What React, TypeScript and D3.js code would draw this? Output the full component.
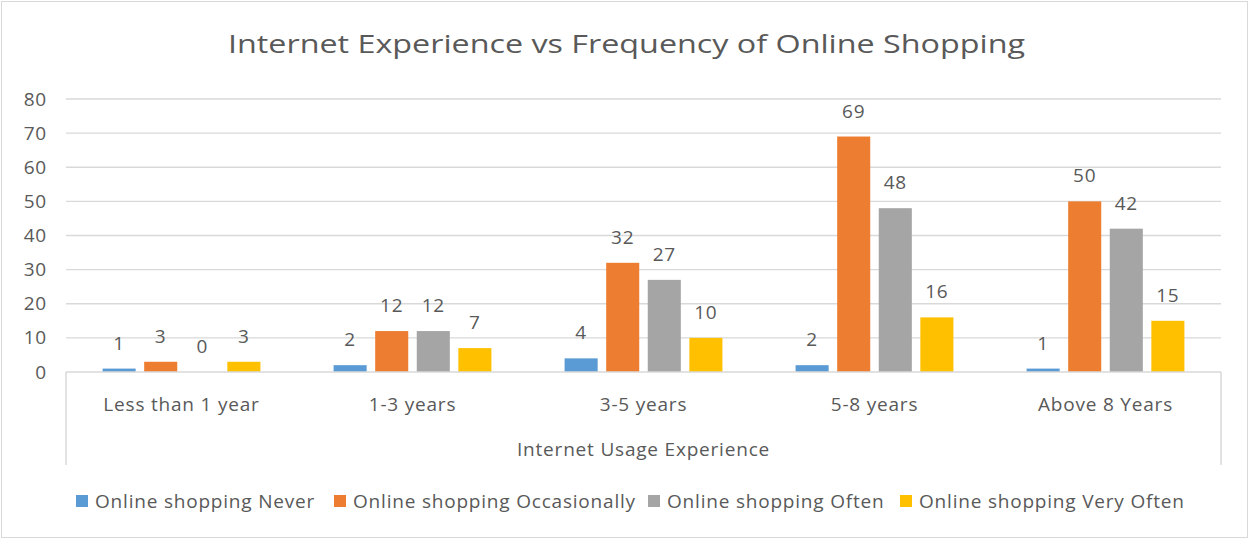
import React, { useEffect, useRef } from "react";
import * as d3 from "d3";

const title = "Internet Experience vs Frequency of Online Shopping";
const axisTitle = "Internet Usage Experience";
const categories = ["Less than 1 year", "1-3 years", "3-5 years", "5-8 years", "Above 8 Years"];
const seriesNames = [
  "Online shopping Never",
  "Online shopping Occasionally",
  "Online shopping Often",
  "Online shopping Very Often",
];
const never = [1, 2, 4, 2, 1];
const occasionally = [3, 12, 32, 69, 50];
const often = [0, 12, 27, 48, 42];
const veryOften = [3, 7, 10, 16, 15];
const yTicks = [0, 10, 20, 30, 40, 50, 60, 70, 80];
const colors = ["#5B9BD5", "#ED7D31", "#A5A5A5", "#FFC000"];

const W = 1249;
const H = 539;
const FONT = "'Open Sans', sans-serif";
const TXT = "#595959";
const FS = "19px";
const LS = "0.8px";

export default function App() {
  const ref = useRef<SVGSVGElement>(null);

  useEffect(() => {
    document.body.style.margin = "0";
    const svg = d3.select(ref.current);
    svg.selectAll("*").remove();

    const plot = { left: 66, right: 1221, top: 99, bottom: 372 };
    const values = [never, occasionally, often, veryOften];

    // outer chart border
    svg.append("rect")
      .attr("x", 1.5).attr("y", 1.5)
      .attr("width", W - 3).attr("height", H - 3)
      .attr("fill", "#fff").attr("stroke", "#D9D9D9");

    // title, stretched a bit like the original
    svg.append("text")
      .attr("x", 228).attr("y", 53)
      .attr("textLength", 797).attr("lengthAdjust", "spacingAndGlyphs")
      .style("font-family", FONT).style("font-size", "26px")
      .attr("fill", TXT)
      .text(title);

    const x0 = d3.scaleBand().domain(categories).range([plot.left, plot.right]);
    const x1 = d3.scaleBand().domain(seriesNames).range([0, x0.bandwidth()])
      .paddingInner(0.205).paddingOuter(0.88);
    const y = d3.scaleLinear().domain([0, 80]).range([plot.bottom, plot.top]);

    // gridlines
    svg.append("g")
      .selectAll("line")
      .data(yTicks.filter(t => t > 0))
      .join("line")
      .attr("x1", plot.left).attr("x2", plot.right)
      .attr("y1", d => y(d)).attr("y2", d => y(d))
      .attr("stroke", "#D9D9D9").attr("stroke-width", 1.3);

    // y axis labels
    const yAxis = svg.append("g")
      .attr("transform", `translate(${plot.left - 19},0)`)
      .call(d3.axisLeft(y).tickValues(yTicks).tickSize(0).tickPadding(0));
    yAxis.select(".domain").remove();
    yAxis.selectAll("text")
      .attr("fill", TXT)
      .style("font-family", FONT).style("font-size", FS).style("letter-spacing", LS);

    // bars
    const groups = svg.append("g")
      .selectAll("g")
      .data(categories)
      .join("g")
      .attr("transform", d => `translate(${x0(d)},0)`);

    groups.selectAll("rect")
      .data((c, i) => seriesNames.map((s, k) => ({ s, k, v: values[k][i] })))
      .join("rect")
      .attr("x", d => x1(d.s)!)
      .attr("width", x1.bandwidth())
      .attr("y", d => y(d.v))
      .attr("height", d => y(0) - y(d.v))
      .attr("fill", d => colors[d.k]);

    groups.selectAll("text")
      .data((c, i) => seriesNames.map((s, k) => ({ s, k, v: values[k][i] })))
      .join("text")
      .attr("x", d => x1(d.s)! + x1.bandwidth() / 2)
      .attr("y", d => y(d.v) - 19)
      .attr("text-anchor", "middle")
      .attr("fill", TXT)
      .style("font-family", FONT).style("font-size", FS).style("letter-spacing", LS)
      .text(d => d.v);

    // category axis box
    const axisColor = "#D9D9D9";
    svg.append("line")
      .attr("x1", plot.left).attr("x2", plot.right)
      .attr("y1", plot.bottom).attr("y2", plot.bottom)
      .attr("stroke", axisColor).attr("stroke-width", 1.5);
    [plot.left, plot.right].forEach(xx => {
      svg.append("line")
        .attr("x1", xx).attr("x2", xx)
        .attr("y1", plot.bottom).attr("y2", 465)
        .attr("stroke", axisColor).attr("stroke-width", 1.5);
    });

    svg.append("g")
      .selectAll("text")
      .data(categories)
      .join("text")
      .attr("x", d => x0(d)! + x0.bandwidth() / 2)
      .attr("y", 411)
      .attr("text-anchor", "middle")
      .attr("fill", TXT)
      .style("font-family", FONT).style("font-size", FS).style("letter-spacing", LS)
      .text(d => d);

    svg.append("text")
      .attr("x", (plot.left + plot.right) / 2).attr("y", 456)
      .attr("text-anchor", "middle")
      .attr("fill", TXT)
      .style("font-family", FONT).style("font-size", FS).style("letter-spacing", LS)
      .text(axisTitle);

    // legend
    const legendX = [76, 334, 648, 900];
    const legend = svg.append("g")
      .selectAll("g")
      .data(seriesNames)
      .join("g")
      .attr("transform", (d, i) => `translate(${legendX[i]},501)`);
    legend.append("rect")
      .attr("x", 0).attr("y", -6).attr("width", 12).attr("height", 12)
      .attr("fill", (d, i) => colors[i]);
    legend.append("text")
      .attr("x", 19).attr("y", 7)
      .attr("fill", TXT)
      .style("font-family", FONT).style("font-size", FS).style("letter-spacing", LS)
      .text(d => d);
  }, []);

  return <svg ref={ref} width={W} height={H} style={{ display: "block" }} />;
}
